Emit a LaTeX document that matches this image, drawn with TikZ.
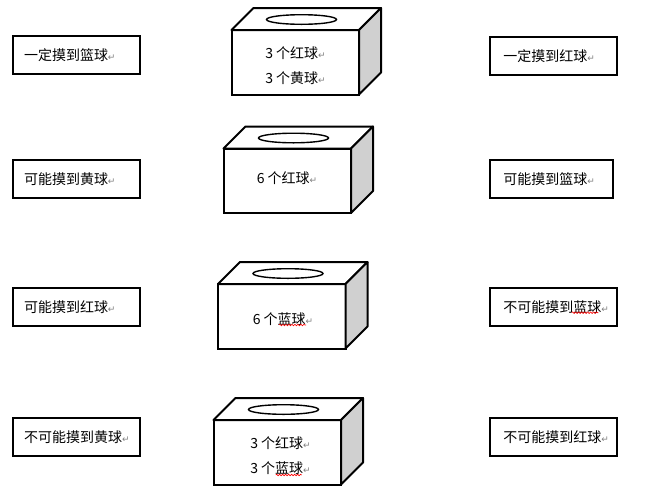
\documentclass[tikz,border=0pt]{standalone}
\usepackage{fontspec}
\newfontfamily\cjk{Noto Sans CJK SC}
\newfontfamily\dejavu{DejaVu Sans}
\usetikzlibrary{positioning,decorations.pathmorphing}
\definecolor{sidegray}{RGB}{208,208,208}
\newcommand\pmark{{\dejavu\fontsize{9pt}{9pt}\selectfont\textcolor{gray}{↵}}}
\tikzset{
  tag/.style={draw, line width=2pt, anchor=north west, minimum height=38pt,
    text width=#1, inner xsep=11pt, align=left,
    font=\cjk\fontsize{14pt}{16pt}\selectfont},
  tag/.default=105pt,
  inside/.style={align=center, font=\cjk\fontsize{14pt}{24.5pt}\selectfont},
  wave/.style={red, line width=0.6pt, decorate,
    decoration={snake, segment length=3pt, amplitude=0.8pt}},
}

\begin{document}
\begin{tikzpicture}[x=1pt,y=-1pt]
  \useasboundingbox (0,0) rectangle (654,491);
  % ball boxes
  \foreach \x/\y in {231.5/30, 223.5/148.5, 218/284, 213.5/420}{
    \draw[line width=2pt, fill=white] (\x,\y) rectangle ++(127.5,64.5);
    \draw[line width=2pt, fill=white, line join=round] (\x,\y) -- ++(22,-22) -- ++(127.5,0) -- ++(-22,22) -- cycle;
    \draw[line width=2pt, fill=sidegray, line join=round] ({\x+127.5},\y) -- ++(22,-22) -- ++(0,64.5) -- ++(-22,22) -- cycle;
    \draw[line width=1.4pt] ({\x+70},{\y-10.5}) ellipse [x radius=35, y radius=4.8];
  }
  \node[inside] (redyellow) at (295.5,65.5) {3 个红球\pmark\\3 个黄球\pmark};
  \node[inside] (sixred) at (287,178) {6 个红球\pmark};
  \node[inside] (sixblue) at (283,319) {6 个蓝球\pmark};
  \node[inside] (redblue) at (280.5,455.8) {3 个红球\pmark\\3 个蓝球\pmark};
  % left column
  \node[tag] (surebluea) at (12,35.3) {一定摸到篮球\pmark};
  \node[tag] (mayyellow) at (12,158.7) {可能摸到黄球\pmark};
  \node[tag] (mayred) at (12,286.7) {可能摸到红球\pmark};
  \node[tag] (noyellow) at (12,416.7) {不可能摸到黄球\pmark};
  % right column
  \node[tag=101pt, inner xsep=13pt] (surered) at (489.3,35.7) {一定摸到红球\pmark};
  \node[tag=97pt, inner xsep=13pt] (maybluea) at (489.3,158.7) {可能摸到篮球\pmark};
  \node[tag=101pt, inner xsep=13pt] (noblue) at (489.3,286.7) {不可能摸到蓝球\pmark};
  \node[tag=101pt, inner xsep=13pt] (nored) at (489.3,416.7) {不可能摸到红球\pmark};
  % spelling marks
  \draw[wave] ([shift={(-4,6)}]sixblue.center) -- ++(27,0);
  \draw[wave] ([shift={(-4.8,19.2)}]redblue.center) -- ++(26,0);
  \draw[wave] ([shift={(82.4,26)}]noblue.north west) -- ++(26.6,0);
\end{tikzpicture}
\end{document}
